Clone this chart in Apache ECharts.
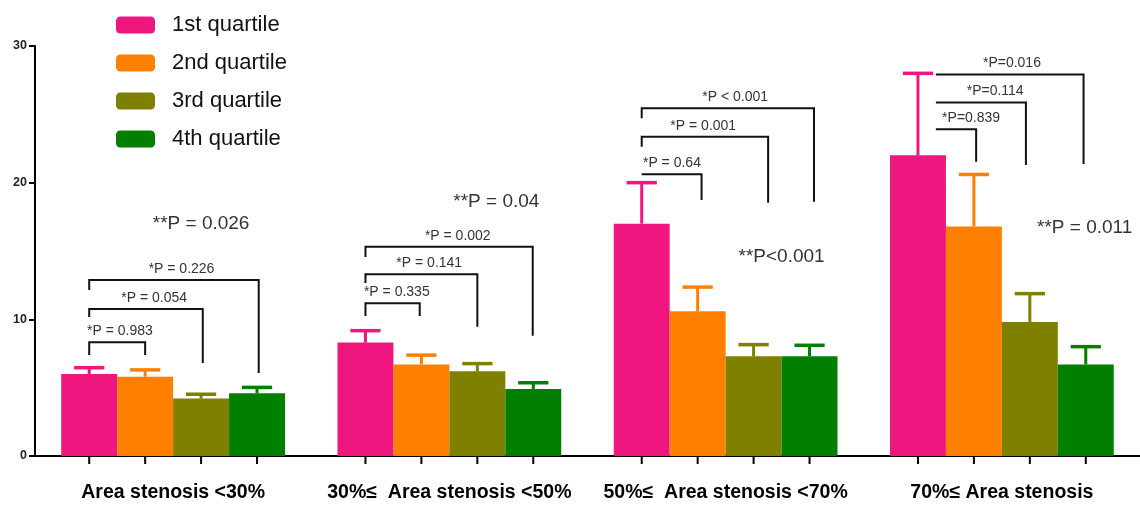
<!DOCTYPE html>
<html>
<head>
<meta charset="utf-8">
<script src="https://cdn.jsdelivr.net/npm/echarts@6/dist/echarts.min.js"></script>
<style>
  html, body { margin: 0; padding: 0; background: #fff; }
  #chart { width: 1140px; height: 506px; }
</style>
</head>
<body>
<div id="chart"></div>
<script>
// ---- data ----
const categories = ['Area stenosis <30%', '30%\u2264  Area stenosis <50%', '50%\u2264  Area stenosis <70%', '70%\u2264 Area stenosis'];
const seriesNames = ['1st quartile', '2nd quartile', '3rd quartile', '4th quartile'];
const q1 = [6.0, 8.3, 17.0, 22.0];
const q2 = [5.8, 6.7, 10.6, 16.8];
const q3 = [4.2, 6.2, 7.3, 9.8];
const q4 = [4.6, 4.9, 7.3, 6.7];
const q1Err = [0.46, 0.87, 3.0, 6.0];
const q2Err = [0.5, 0.68, 1.76, 3.8];
const q3Err = [0.32, 0.56, 0.85, 2.08];
const q4Err = [0.42, 0.46, 0.8, 1.3];
const yTicks = [0, 10, 20, 30];

// pairwise comparison brackets: group, from bar, to bar, top value, left end value, right end value, label
const brGroup = [0, 0, 0, 1, 1, 1, 2, 2, 2, 3, 3, 3];
const brFrom  = [0, 0, 0, 0, 0, 0, 0, 0, 0, 0.32, 0.32, 0.32];
const brTo    = [1, 2.03, 3.03, 0.97, 2.0, 2.99, 1.07, 2.26, 3.08, 1.04, 1.93, 2.96];
const brTop   = [8.32, 10.75, 12.87, 11.17, 13.29, 15.31, 20.61, 23.36, 25.44, 23.9, 25.87, 27.92];
const brLeft  = [7.39, 10.17, 12.14, 10.24, 12.66, 14.56, 20.61, 22.63, 24.71, 23.9, 25.87, 27.92];
const brRight = [7.39, 6.80, 6.07, 10.24, 9.46, 8.80, 18.73, 18.53, 18.6, 21.53, 21.29, 21.36];
const brLabel = ['*P = 0.983', '*P = 0.054', '*P = 0.226', '*P = 0.335', '*P = 0.141', '*P = 0.002',
                 '*P = 0.64', '*P = 0.001', '*P < 0.001', '*P=0.839', '*P=0.114', '*P=0.016'];
const brLabelPos = [0.55, 1.16, 1.65, 0.56, 1.14, 1.65, 0.54, 1.1, 1.67, 0.95, 1.38, 1.68];

// overall trend P values per group
const overallLabel = ['**P = 0.026', '**P = 0.04', '**P<0.001', '**P = 0.011'];
const overallVal = [17.0, 18.6, 14.6, 16.7];
const overallPos = [2.0, 2.34, 2.5, 2.98];

// ---- style ----
const colors = ['#F0167F', '#FF7F00', '#7F7F00', '#007F00'];
const FONT = 'Liberation Sans, Arial, sans-serif';
const GAP = 0.19;
const frac = (1 - GAP) / 4;

const values = [q1, q2, q3, q4];
const errs = [q1Err, q2Err, q3Err, q4Err];

function slotX(api, cat, slot) {
  const band = api.size([1, 0])[0];
  const c = api.coord([cat, 0])[0];
  return c + (slot - 1.5) * band * frac;
}

const series = [];
values.forEach((v, s) => {
  series.push({
    name: seriesNames[s], type: 'bar', data: v,
    barGap: '0%', barCategoryGap: (GAP * 100) + '%',
    itemStyle: { color: colors[s] }, z: 2
  });
});
errs.forEach((e, s) => {
  series.push({
    type: 'custom', z: 3, silent: true,
    data: values[s].map((m, i) => [i, m, e[i]]),
    renderItem: function (params, api) {
      const cat = api.value(0), m = api.value(1), er = api.value(2);
      const band = api.size([1, 0])[0];
      const x = slotX(api, cat, s);
      const y0 = api.coord([cat, m])[1];
      const y1 = api.coord([cat, m + er])[1];
      const cap = band * frac * 0.54;
      return {
        type: 'group', children: [
          { type: 'line', shape: { x1: x, y1: y0, x2: x, y2: y1 }, style: { stroke: colors[s], lineWidth: 3 } },
          { type: 'line', shape: { x1: x - cap / 2, y1: y1, x2: x + cap / 2, y2: y1 }, style: { stroke: colors[s], lineWidth: 3.5 } }
        ]
      };
    }
  });
});
// ticks under x-axis at bar centres
const tickData = [];
categories.forEach((c, i) => { for (let s = 0; s < 4; s++) tickData.push([i, 0, s]); });
series.push({
  type: 'custom', z: 4, silent: true, clip: false,
  data: tickData,
  renderItem: function (params, api) {
    const cat = api.value(0), s = api.value(2);
    const x = slotX(api, cat, s);
    const y = api.coord([cat, 0])[1];
    return { type: 'line', shape: { x1: x, y1: y, x2: x, y2: y + 8 }, style: { stroke: '#000', lineWidth: 2 } };
  }
});
// brackets
series.push({
  type: 'custom', z: 5, silent: true, clip: false,
  data: brGroup.map((g, i) => [g, brTop[i], i]),
  renderItem: function (params, api) {
    const i = params.dataIndex;
    const g = brGroup[i];
    const xa = slotX(api, g, brFrom[i]);
    const xb = slotX(api, g, brTo[i]);
    const yt = api.coord([g, brTop[i]])[1];
    const yl = api.coord([g, brLeft[i]])[1];
    const yr = api.coord([g, brRight[i]])[1];
    const xl = slotX(api, g, brLabelPos[i]);
    return {
      type: 'group', children: [
        { type: 'polyline', shape: { points: [[xa, yl], [xa, yt], [xb, yt], [xb, yr]] },
          style: { stroke: '#111', lineWidth: 2, fill: null } },
        { type: 'text', x: xl, y: yt - 4,
          style: { text: brLabel[i], fill: '#333', fontSize: 14, fontFamily: FONT,
                   align: 'center', verticalAlign: 'bottom' } }
      ]
    };
  }
});
// overall P labels
series.push({
  type: 'custom', z: 5, silent: true, clip: false,
  data: overallVal.map((v, i) => [i, v]),
  renderItem: function (params, api) {
    const i = params.dataIndex;
    const x = slotX(api, i, overallPos[i]);
    const y = api.coord([i, overallVal[i]])[1];
    return { type: 'text', x: x, y: y,
      style: { text: overallLabel[i], fill: '#333', fontSize: 19, fontFamily: FONT,
               align: 'center', verticalAlign: 'middle' } };
  }
});

const chart = echarts.init(document.getElementById('chart'), null, { renderer: 'canvas' });
chart.setOption({
  animation: false,
  backgroundColor: '#fff',
  grid: { left: 35, right: -3, top: 46, bottom: 50, containLabel: false },
  legend: {
    data: seriesNames, orient: 'vertical', left: 111, top: 9,
    itemWidth: 39, itemHeight: 17, itemGap: 16, icon: 'roundRect',
    textStyle: { fontSize: 22, lineHeight: 17, color: '#111', fontFamily: FONT, padding: [0, 0, 0, 12] }
  },
  xAxis: {
    type: 'category', data: categories,
    axisLine: { lineStyle: { color: '#000', width: 2 } },
    axisTick: { show: false },
    axisLabel: { margin: 27, fontSize: 19.5, fontWeight: 'bold', color: '#000', fontFamily: FONT, interval: 0 }
  },
  yAxis: {
    type: 'value', min: yTicks[0], max: yTicks[yTicks.length - 1], interval: 10,
    splitLine: { show: false },
    axisLine: { show: true, lineStyle: { color: '#000', width: 2 } },
    axisTick: { show: true, length: 6, lineStyle: { color: '#000', width: 2 } },
    axisLabel: { margin: 8, fontSize: 12.5, fontWeight: 'bold', color: '#222', fontFamily: FONT }
  },
  series: series
});
</script>
</body>
</html>
